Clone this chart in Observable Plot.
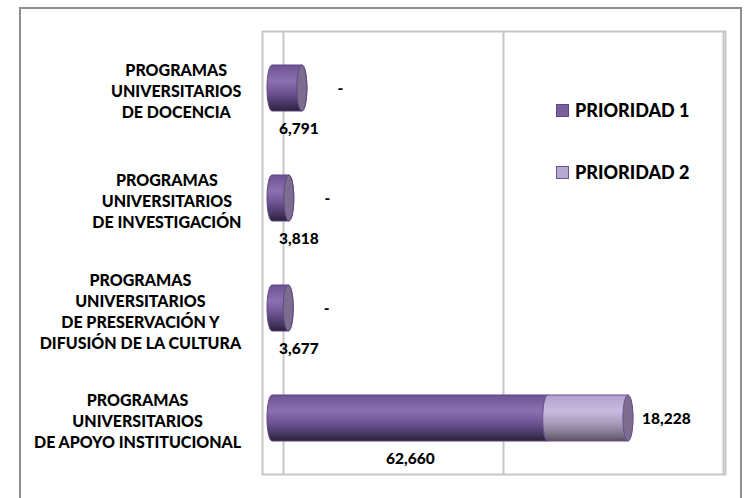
<!DOCTYPE html>
<html><head><meta charset="utf-8">
<script src="https://cdn.jsdelivr.net/npm/d3@7"></script>
<script src="https://cdn.jsdelivr.net/npm/@observablehq/plot@0.6"></script>
<style>
html,body{margin:0;padding:0;background:#fff;}
#wrap{position:relative;width:744px;height:498px;overflow:hidden;font-family:Lato,"Open Sans",sans-serif;}
#chart{position:absolute;left:0;top:0;}
#border{position:absolute;left:19px;top:7px;width:723px;height:520px;border:2px solid #8e8e8e;box-sizing:border-box;}
.item{position:absolute;display:flex;align-items:center;font-weight:900;font-size:18px;color:#000;white-space:nowrap;}
.sw{width:11px;height:11px;border:1px solid;margin-right:6px;}
</style></head>
<body><div id="wrap"><div id="border"></div><div id="chart"></div></div>
<script>
const categories = [
  "PROGRAMAS\nUNIVERSITARIOS\nDE DOCENCIA",
  "PROGRAMAS\nUNIVERSITARIOS\nDE INVESTIGACIÓN",
  "PROGRAMAS\nUNIVERSITARIOS\nDE PRESERVACIÓN Y\nDIFUSIÓN DE LA CULTURA",
  "PROGRAMAS\nUNIVERSITARIOS\nDE APOYO INSTITUCIONAL"
];
const prioridad1 = [6791, 3818, 3677, 62660];
const prioridad2 = [0, 0, 0, 18228];
const seriesNames = ["PRIORIDAD 1", "PRIORIDAD 2"];
const gridValues = [0, 50000, 100000];

const rows = categories.map((c, i) => ({cat: c, p1: prioridad1[i], p2: prioridad2[i], total: prioridad1[i] + prioridad2[i]}));
const fmt = d3.format(",");

const defs = () => {
  const d = d3.create("svg:defs");
  const g1 = d.append("linearGradient").attr("id", "gP1").attr("x1", 0).attr("y1", 0).attr("x2", 0).attr("y2", 1);
  [[0, "#6d5394"], [0.35, "#8c70b0"], [0.6, "#6f5494"], [0.85, "#463662"], [1, "#2a2138"]].forEach(([o, c]) => g1.append("stop").attr("offset", o).attr("stop-color", c));
  const g2 = d.append("linearGradient").attr("id", "gP2").attr("x1", 0).attr("y1", 0).attr("x2", 0).attr("y2", 1);
  [[0, "#b2a2cc"], [0.35, "#c8b9df"], [0.6, "#aa9dbd"], [0.85, "#7e7489"], [1, "#57505e"]].forEach(([o, c]) => g2.append("stop").attr("offset", o).attr("stop-color", c));
  return d.node();
};

const cyl = {y: "cat", insetLeft: -5, insetRight: -5, rx: 5, ry: 30, dx: -11};
const labelFont = {fontWeight: 900, fill: "#000"};

const plot = Plot.plot({
  width: 744,
  height: 498,
  marginLeft: 262,
  marginRight: 19,
  marginTop: 31,
  marginBottom: 24,
  insetLeft: 21,
  insetRight: 2,
  x: {domain: [0, 100000], axis: null},
  y: {domain: categories, axis: null, paddingInner: 0.585, paddingOuter: 0.2925},
  style: {fontFamily: "Lato, 'Open Sans', sans-serif", color: "#000", background: "transparent"},
  marks: [
    defs,
    Plot.frame({stroke: "#c6c6c6", strokeWidth: 2}),
    Plot.ruleX(gridValues, {stroke: "#c6c6c6", strokeWidth: 2}),
    Plot.barX(rows, {...cyl, x1: d => 0, x2: "p1", fill: "url(#gP1)", stroke: "#5b4782", strokeWidth: 1}),
    Plot.barX(rows, {...cyl, x1: "p1", x2: "p1", fill: "#7c6d8e", stroke: "#5b4782", strokeWidth: 1}),
    Plot.barX(rows.filter(d => d.p2 > 0), {...cyl, x1: "p1", x2: "total", fill: "url(#gP2)", stroke: "#6a5193", strokeWidth: 1}),
    Plot.barX(rows.filter(d => d.p2 > 0), {...cyl, x1: "total", x2: "total", fill: "#7c6d8e", stroke: "#6a5193", strokeWidth: 1}),
    Plot.text(rows, {y: "cat", x: d => Math.max(d.p1 / 2, 6000), text: d => fmt(d.p1), dx: -11, dy: 41, fontSize: 15.5, ...labelFont}),
    Plot.text(rows, {y: "cat", x: "total", text: d => d.p2 ? fmt(d.p2) : "-", dx: 27, dy: 1, fontSize: 15.5, ...labelFont}),
    Plot.text(rows, {y: "cat", text: "cat", frameAnchor: "left", textAnchor: "middle", lineHeight: 1.31, fontSize: 16, ...labelFont})
  ]
});

document.getElementById("chart").appendChild(plot);

// center each label block's lines, with the block right-aligned near the plot area
d3.select(plot).selectAll("text").filter(function () { return this.textContent.startsWith("PROGRAMAS"); }).each(function () {
  const w = this.getBBox().width;
  const t = this.getAttribute("transform") || "";
  const m = /translate\(([-\d.]+)[,\s]+([-\d.]+)\)/.exec(t);
  const y = m ? +m[2] : 0;
  this.setAttribute("transform", `translate(${241 - w / 2},${y + 2})`);
});

// legend
const legendColors = [["#7b5f9e", "#5b4782"], ["#b7a8cf", "#6b5494"]];
const legendTops = [102, 164];
seriesNames.forEach((name, i) => {
  const it = document.createElement("div");
  it.className = "item";
  it.style.left = "556px";
  it.style.top = (legendTops[i] - 3) + "px";
  it.innerHTML = `<span class="sw" style="background:${legendColors[i][0]};border-color:${legendColors[i][1]}"></span><span>${name}</span>`;
  document.getElementById("wrap").appendChild(it);
});
</script>
</body></html>
